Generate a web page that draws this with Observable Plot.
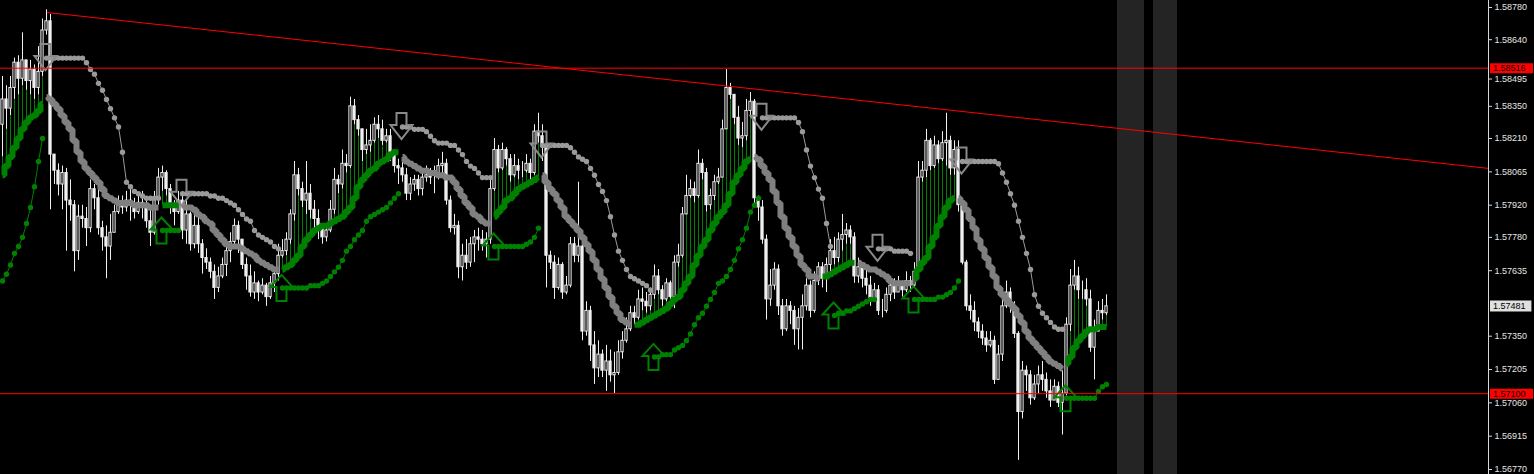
<!DOCTYPE html>
<html><head><meta charset="utf-8">
<script src="https://cdn.jsdelivr.net/npm/d3@7"></script>
<script src="https://cdn.jsdelivr.net/npm/@observablehq/plot@0.6"></script>
<style>html,body{margin:0;padding:0;background:#000;overflow:hidden}</style>
</head><body><div id="chart"></div>
<script>
// ---------- data (prices) ----------
const firstOpen = 1.5827;
const closes = [
1.5838,1.5834,1.5843,1.5854,1.5847,1.5855,1.5846,1.5851,1.5843,1.5850,
1.5868,1.5872,1.5814,1.5807,1.5801,1.5806,1.5794,1.5792,1.5772,1.5787,
1.5786,1.5782,1.5799,1.5795,1.5782,1.5778,1.5774,1.5780,1.5789,1.5792,
1.5791,1.5794,1.5792,1.5789,1.5793,1.5791,1.5785,1.5780,1.5795,1.5804,
1.5806,1.5799,1.5791,1.5789,1.5794,1.5781,1.5788,1.5775,1.5783,1.5775,
1.5769,1.5767,1.5763,1.5756,1.5761,1.5766,1.5772,1.5776,1.5783,1.5777,
1.5766,1.5761,1.5754,1.5758,1.5754,1.5757,1.5752,1.5758,1.5762,1.5770,
1.5772,1.5777,1.5788,1.5805,1.5799,1.5794,1.5797,1.5790,1.5786,1.5782,
1.5778,1.5781,1.5790,1.5803,1.5801,1.5810,1.5809,1.5835,1.5829,1.5825,
1.5816,1.5818,1.5820,1.5827,1.5825,1.5820,1.5822,1.5814,1.5809,1.5808,
1.5805,1.5797,1.5801,1.5803,1.5799,1.5804,1.5805,1.5804,1.5804,1.5809,
1.5810,1.5794,1.5782,1.5783,1.5765,1.5770,1.5767,1.5775,1.5778,1.5777,
1.5775,1.5777,1.5799,1.5816,1.5808,1.5816,1.5812,1.5805,1.5809,1.5807,
1.5807,1.5810,1.5806,1.5824,1.5822,1.5818,1.5770,1.5767,1.5756,1.5766,
1.5754,1.5757,1.5775,1.5770,1.5774,1.5737,1.5746,1.5731,1.5721,1.5727,
1.5720,1.5724,1.5718,1.5719,1.5728,1.5733,1.5738,1.5745,1.5743,1.5751,
1.5750,1.5748,1.5753,1.5761,1.5755,1.5751,1.5758,1.5752,1.5767,1.5770,
1.5788,1.5796,1.5799,1.5796,1.5810,1.5806,1.5792,1.5796,1.5802,1.5804,
1.5825,1.5843,1.5840,1.5830,1.5821,1.5822,1.5833,1.5837,1.5795,1.5791,
1.5777,1.5751,1.5757,1.5764,1.5748,1.5738,1.5748,1.5746,1.5738,1.5743,
1.5748,1.5757,1.5746,1.5759,1.5765,1.5760,1.5766,1.5772,1.5769,1.5777,
1.5779,1.5781,1.5778,1.5761,1.5765,1.5760,1.5757,1.5751,1.5755,1.5746,
1.5746,1.5753,1.5757,1.5754,1.5758,1.5755,1.5759,1.5757,1.5763,1.5804,
1.5807,1.5820,1.5809,1.5818,1.5812,1.5819,1.5820,1.5808,1.5816,1.5792,
1.5767,1.5748,1.5746,1.5741,1.5737,1.5734,1.5731,1.5733,1.5716,1.5727,
1.5748,1.5754,1.5748,1.5736,1.5702,1.5720,1.5718,1.5708,1.5714,1.5718,
1.5716,1.5711,1.5707,1.5713,1.5706,1.5710,1.5740,1.5757,1.5761,1.5755,
1.5755,1.5751,1.5730,1.5737,1.5746,1.5745,1.5748];
const highs = [
1.5848,1.5844,1.5848,1.5856,1.5857,1.5867,1.5855,1.5855,1.5853,1.5861,
1.5873,1.5877,1.5875,1.5811,1.5810,1.5809,1.5808,1.5803,1.5794,1.5792,
1.5792,1.5791,1.5803,1.5801,1.5803,1.5785,1.5783,1.5788,1.5792,1.5796,
1.5796,1.5798,1.5800,1.5795,1.5796,1.5798,1.5794,1.5792,1.5798,1.5808,
1.5809,1.5807,1.5801,1.5794,1.5798,1.5796,1.5794,1.5789,1.5791,1.5790,
1.5777,1.5773,1.5769,1.5766,1.5765,1.5769,1.5777,1.5780,1.5786,1.5785,
1.5775,1.5769,1.5766,1.5763,1.5759,1.5760,1.5758,1.5761,1.5765,1.5775,
1.5777,1.5780,1.5790,1.5811,1.5808,1.5802,1.5811,1.5801,1.5794,1.5790,
1.5784,1.5783,1.5794,1.5808,1.5805,1.5816,1.5814,1.5839,1.5838,1.5831,
1.5822,1.5825,1.5827,1.5830,1.5831,1.5829,1.5825,1.5825,1.5816,1.5812,
1.5811,1.5808,1.5804,1.5805,1.5805,1.5807,1.5809,1.5808,1.5809,1.5812,
1.5815,1.5812,1.5796,1.5788,1.5785,1.5775,1.5777,1.5778,1.5781,1.5782,
1.5781,1.5780,1.5803,1.5821,1.5818,1.5819,1.5817,1.5814,1.5814,1.5812,
1.5811,1.5814,1.5812,1.5827,1.5832,1.5827,1.5820,1.5772,1.5770,1.5769,
1.5767,1.5761,1.5778,1.5778,1.5802,1.5775,1.5750,1.5748,1.5737,1.5733,
1.5729,1.5731,1.5729,1.5728,1.5733,1.5737,1.5743,1.5748,1.5748,1.5755,
1.5756,1.5754,1.5756,1.5766,1.5764,1.5757,1.5760,1.5759,1.5770,1.5775,
1.5791,1.5805,1.5803,1.5802,1.5816,1.5812,1.5808,1.5799,1.5805,1.5808,
1.5829,1.5851,1.5845,1.5840,1.5835,1.5828,1.5838,1.5841,1.5838,1.5796,
1.5794,1.5779,1.5764,1.5767,1.5766,1.5751,1.5751,1.5750,1.5748,1.5747,
1.5753,1.5760,1.5759,1.5763,1.5767,1.5767,1.5769,1.5777,1.5778,1.5780,
1.5788,1.5784,1.5783,1.5780,1.5769,1.5767,1.5764,1.5761,1.5758,1.5757,
1.5751,1.5756,1.5760,1.5760,1.5761,1.5759,1.5763,1.5761,1.5767,1.5811,
1.5811,1.5825,1.5821,1.5822,1.5820,1.5824,1.5832,1.5822,1.5820,1.5820,
1.5792,1.5768,1.5753,1.5750,1.5743,1.5740,1.5737,1.5737,1.5735,1.5731,
1.5755,1.5759,1.5756,1.5750,1.5737,1.5724,1.5722,1.5720,1.5718,1.5722,
1.5724,1.5719,1.5716,1.5716,1.5715,1.5720,1.5743,1.5764,1.5768,1.5765,
1.5759,1.5760,1.5755,1.5742,1.5750,1.5751,1.5753];
const lows = [
1.5813,1.5825,1.5831,1.5838,1.5840,1.5844,1.5842,1.5840,1.5838,1.5840,
1.5848,1.5866,1.5790,1.5801,1.5796,1.5790,1.5772,1.5785,1.5763,1.5768,
1.5782,1.5774,1.5780,1.5790,1.5779,1.5772,1.5760,1.5768,1.5780,1.5788,
1.5788,1.5789,1.5785,1.5786,1.5788,1.5786,1.5782,1.5774,1.5779,1.5792,
1.5798,1.5796,1.5788,1.5783,1.5788,1.5777,1.5775,1.5772,1.5773,1.5771,
1.5762,1.5764,1.5760,1.5751,1.5754,1.5760,1.5761,1.5767,1.5773,1.5771,
1.5764,1.5755,1.5752,1.5751,1.5750,1.5753,1.5748,1.5751,1.5754,1.5759,
1.5769,1.5770,1.5775,1.5785,1.5796,1.5791,1.5788,1.5786,1.5782,1.5777,
1.5775,1.5776,1.5780,1.5788,1.5797,1.5799,1.5806,1.5808,1.5827,1.5822,
1.5811,1.5814,1.5815,1.5819,1.5821,1.5818,1.5819,1.5811,1.5806,1.5801,
1.5802,1.5794,1.5794,1.5798,1.5796,1.5796,1.5802,1.5801,1.5797,1.5803,
1.5805,1.5792,1.5780,1.5779,1.5760,1.5759,1.5764,1.5765,1.5767,1.5772,
1.5772,1.5769,1.5775,1.5798,1.5806,1.5807,1.5809,1.5802,1.5804,1.5803,
1.5804,1.5806,1.5803,1.5805,1.5819,1.5811,1.5756,1.5764,1.5751,1.5755,
1.5751,1.5753,1.5756,1.5767,1.5767,1.5733,1.5735,1.5724,1.5714,1.5717,
1.5717,1.5711,1.5715,1.5710,1.5718,1.5725,1.5732,1.5737,1.5740,1.5742,
1.5746,1.5745,1.5746,1.5751,1.5753,1.5748,1.5750,1.5750,1.5747,1.5765,
1.5769,1.5788,1.5795,1.5793,1.5795,1.5803,1.5789,1.5790,1.5794,1.5801,
1.5805,1.5825,1.5838,1.5827,1.5818,1.5817,1.5820,1.5830,1.5792,1.5785,
1.5775,1.5742,1.5748,1.5755,1.5744,1.5735,1.5737,1.5740,1.5731,1.5729,
1.5729,1.5746,1.5743,1.5745,1.5757,1.5756,1.5754,1.5761,1.5766,1.5767,
1.5772,1.5775,1.5775,1.5758,1.5758,1.5756,1.5753,1.5748,1.5750,1.5744,
1.5743,1.5745,1.5750,1.5751,1.5754,1.5752,1.5754,1.5754,1.5756,1.5761,
1.5802,1.5804,1.5807,1.5808,1.5810,1.5811,1.5809,1.5805,1.5805,1.5789,
1.5766,1.5746,1.5742,1.5737,1.5734,1.5731,1.5728,1.5730,1.5714,1.5719,
1.5724,1.5747,1.5745,1.5734,1.5681,1.5699,1.5711,1.5705,1.5707,1.5710,
1.5711,1.5708,1.5704,1.5707,1.5704,1.5692,1.5709,1.5737,1.5755,1.5751,
1.5751,1.5748,1.5728,1.5716,1.5737,1.5742,1.5744];
// thick trend average
const maValues = [
1.5805,1.5809,1.5813,1.5817,1.5821,1.5825,1.5828,1.5830,1.5831,1.5833,1.5836,
1.5839,1.5838,1.5836,1.5834,1.5831,1.5828,1.5825,1.5820,1.5815,1.5811,1.5808,1.5806,1.5804,1.5802,1.5799,1.5796,1.5795,1.5794,1.5793,1.5793,1.5793,1.5793,1.5792,1.5792,1.5792,1.5792,1.5791,1.5791,1.5791,
1.5792,1.5792,1.5792,1.5792,1.5792,
1.5792,1.5791,1.5791,1.5790,1.5788,1.5787,1.5785,1.5784,1.5781,1.5779,1.5777,1.5775,1.5774,1.5774,1.5774,1.5773,1.5772,1.5771,1.5770,1.5768,1.5767,1.5766,1.5765,1.5764,1.5764,
1.5764,1.5765,1.5766,1.5768,1.5770,1.5774,1.5777,1.5779,1.5781,1.5782,1.5783,1.5783,1.5784,1.5785,1.5786,1.5787,1.5789,1.5791,1.5795,1.5800,1.5803,1.5805,1.5807,1.5808,1.5810,1.5811,1.5812,1.5814,1.5815,1.5815,
1.5813,1.5811,1.5810,1.5809,1.5808,1.5807,1.5807,1.5806,1.5806,1.5805,1.5805,1.5804,1.5804,1.5802,1.5799,1.5796,1.5793,1.5791,1.5788,1.5787,1.5785,1.5784,1.5784,
1.5787,1.5789,1.5791,1.5794,1.5795,1.5797,1.5799,1.5800,1.5801,1.5802,1.5803,1.5804,
1.5805,1.5802,1.5799,1.5797,1.5794,1.5791,1.5787,1.5785,1.5783,1.5781,1.5778,1.5775,1.5772,1.5768,1.5764,1.5760,1.5756,1.5752,1.5748,1.5745,1.5742,1.5741,1.5740,
1.5740,1.5740,1.5741,1.5742,1.5743,1.5744,1.5745,1.5746,1.5747,1.5749,1.5751,1.5752,1.5755,1.5758,1.5761,1.5766,1.5770,1.5774,1.5777,1.5781,1.5784,1.5787,1.5789,1.5792,1.5797,1.5802,1.5805,1.5808,1.5811,1.5812,
1.5813,1.5812,1.5809,1.5806,1.5803,1.5798,1.5793,1.5787,1.5782,1.5778,1.5774,1.5770,1.5766,1.5764,1.5761,1.5761,1.5760,
1.5761,1.5761,1.5762,1.5763,1.5764,1.5765,1.5766,1.5767,1.5767,
1.5767,1.5766,1.5765,1.5764,1.5764,1.5763,1.5762,1.5761,1.5759,1.5758,1.5758,1.5758,1.5758,1.5758,
1.5760,1.5764,1.5767,1.5769,1.5774,1.5778,1.5783,1.5787,1.5791,1.5794,1.5795,
1.5795,1.5793,1.5790,1.5786,1.5782,1.5777,1.5773,1.5769,1.5765,1.5761,1.5756,1.5753,1.5751,1.5749,1.5747,1.5744,1.5741,1.5737,1.5734,1.5732,1.5730,1.5728,1.5726,1.5724,1.5723,1.5722,1.5721,
1.5723,1.5726,1.5730,1.5733,1.5735,1.5737,1.5738,1.5738,1.5739,1.5739,1.5739];
const maSegmentStarts = [0,11,40,45,70,100,123,135,158,188,205,214,228,239,266];
// trailing stop dots
const stopValues = [
1.5759,1.5762,1.5766,1.5771,1.5774,1.5778,1.5784,1.5791,1.5800,1.5811,1.5821,
1.5856,1.5856,1.5856,1.5856,1.5856,1.5856,1.5856,1.5856,1.5856,1.5856,1.5854,1.5851,1.5849,1.5845,1.5842,1.5838,1.5834,1.5830,1.5826,1.5815,1.5802,1.5800,1.5798,1.5797,1.5796,1.5795,1.5795,1.5795,1.5795,
1.5781,1.5781,1.5781,1.5781,1.5781,
1.5797,1.5797,1.5797,1.5797,1.5797,1.5797,1.5797,1.5796,1.5796,1.5795,1.5795,1.5794,1.5793,1.5792,1.5790,1.5788,1.5786,1.5785,1.5781,1.5779,1.5778,1.5777,1.5776,1.5774,1.5773,
1.5756,1.5756,1.5756,1.5756,1.5756,1.5756,1.5756,1.5757,1.5757,1.5757,1.5758,1.5759,1.5761,1.5763,1.5765,1.5768,1.5772,1.5774,1.5777,1.5779,1.5781,1.5785,1.5787,1.5788,1.5789,1.5790,1.5791,1.5793,1.5795,1.5797,
1.5826,1.5826,1.5826,1.5825,1.5825,1.5825,1.5824,1.5822,1.5820,1.5819,1.5819,1.5819,1.5818,1.5818,1.5816,1.5814,1.5811,1.5809,1.5808,1.5806,1.5804,1.5804,1.5804,
1.5774,1.5774,1.5774,1.5774,1.5774,1.5774,1.5774,1.5774,1.5775,1.5776,1.5778,1.5782,
1.5818,1.5818,1.5818,1.5818,1.5818,1.5818,1.5818,1.5817,1.5815,1.5813,1.5812,1.5811,1.5808,1.5805,1.5801,1.5798,1.5794,1.5787,1.5779,1.5772,1.5768,1.5764,1.5761,1.5760,1.5759,1.5758,1.5757,1.5755,
1.5726,1.5726,1.5727,1.5727,1.5727,1.5729,1.5730,1.5731,1.5733,1.5736,1.5740,1.5743,1.5745,1.5748,1.5751,1.5754,1.5758,1.5759,1.5761,1.5764,1.5768,1.5773,1.5777,1.5782,1.5789,1.5792,1.5795,
1.5830,1.5830,1.5830,1.5830,1.5830,1.5830,1.5830,1.5830,1.5830,1.5828,1.5824,1.5816,1.5809,1.5804,1.5799,1.5795,1.5784,1.5774,
1.5744,1.5745,1.5745,1.5746,1.5746,1.5747,1.5748,1.5749,1.5750,1.5751,1.5751,
1.5773,1.5773,1.5773,1.5773,1.5772,1.5772,1.5772,1.5772,1.5771,
1.5751,1.5751,1.5751,1.5751,1.5751,1.5751,1.5752,1.5752,1.5753,1.5754,1.5756,1.5759,
1.5811,1.5811,1.5811,1.5811,1.5811,1.5811,1.5811,1.5811,1.5811,1.5810,1.5806,1.5802,1.5797,1.5792,1.5785,1.5778,1.5771,1.5764,1.5753,1.5748,1.5745,1.5743,1.5741,1.5739,1.5738,1.5738,
1.5708,1.5708,1.5708,1.5708,1.5708,1.5708,1.5708,1.5708,1.5711,1.5713,1.5714];
const stopSegmentStarts = [0,11,40,45,70,100,123,135,163,190,208,219,228,240,266];

const yTicks = [1.58780,1.58640,1.58350,1.58210,1.58065,1.57920,1.57780,1.57635,1.57350,1.57205,1.57060,1.56915,1.56770];
const hiddenTick = [1.58495];
const levelLines = [1.58516, 1.57100];
const lastPrice = 1.57481;
const trendLine = [{bar: 11.25, price: 1.58758}, {bar: 371.5, price: 1.5808}];
const sessionBands = [{from: 278.75, to: 285.5}, {from: 287.75, to: 293.75}];
const priceDomain = [1.567483, 1.588105];
const barDomain = [-0.5, 371.5];

// ---------- styles ----------
const GREEN = "#008000", GRAY = "#808080", DOTGRAY = "#9a9a9a", CANDLE = "#f0f0f0";

function segOf(starts, i) { let k = 0; for (let j = 0; j < starts.length; j++) if (starts[j] <= i) k = j; return k; }

const bars = closes.map((c, i) => {
  const o = i === 0 ? firstOpen : closes[i - 1];
  return {i, o, c, h: Math.max(highs[i], o, c), l: Math.min(lows[i], o, c), bull: c > o};
});
const ma = maValues.map((v, i) => { const k = segOf(maSegmentStarts, i); return {i, v, seg: k, up: k % 2 === 0}; });
const stops = stopValues.map((v, i) => { const k = segOf(stopSegmentStarts, i); return {i, v, seg: k, up: k % 2 === 0}; });
const arrows = stopSegmentStarts.slice(1).map((s, j) => ({i: s - 0.25, v: stopValues[s], up: (j + 1) % 2 === 0}));
const thin = bars.filter(b => ma[b.i] && ma[b.i].up && b.l > ma[b.i].v).map(b => ({i: b.i, a: ma[b.i].v, b: b.l}));

const arrowUp = {draw(ctx) { ctx.moveTo(-5, 13); ctx.lineTo(-5, -1); ctx.lineTo(-11, -1); ctx.lineTo(0, -13); ctx.lineTo(11, -1); ctx.lineTo(5, -1); ctx.lineTo(5, 13); ctx.closePath(); }};
const arrowDown = {draw(ctx) { ctx.moveTo(-5, -14); ctx.lineTo(-5, -2); ctx.lineTo(-11, -2); ctx.lineTo(0, 12); ctx.lineTo(11, -2); ctx.lineTo(5, -2); ctx.lineTo(5, -14); ctx.closePath(); }};

const fmt = d => d.toFixed(5);
const LBX1 = 372, LBX2 = 382.75, LTX = 372.6;
const axisOpts = {anchor: "right", tickFormat: fmt, tickSize: 3, tickPadding: 3, label: null, stroke: "#d8d8d8", fill: "#e6e6e6", fontSize: 9};

const chart = Plot.plot({
  width: 1534, height: 474,
  marginTop: 0, marginBottom: 0, marginLeft: 0, marginRight: 46,
  x: {domain: barDomain, axis: null},
  y: {domain: priceDomain},
  color: {type: "identity"},
  style: {background: "#000", color: "#e6e6e6", fontFamily: "Liberation Sans, Arial, sans-serif", fontSize: "9px"},
  marks: [
    Plot.rect(sessionBands, {x1: "from", x2: "to", fill: "#242424"}),
    Plot.ruleX(thin, {x: "i", y1: "a", y2: "b", stroke: GREEN, strokeWidth: 1}),
    Plot.ruleX(bars, {x: "i", y1: "l", y2: "h", stroke: CANDLE, strokeWidth: 1}),
    Plot.rect(bars.filter(d => !d.bull), {x1: d => d.i - 0.28, x2: d => d.i + 0.28, y1: "o", y2: "c", fill: CANDLE, stroke: CANDLE, strokeWidth: 1}),
    Plot.rect(bars.filter(d => d.bull), {x1: d => d.i - 0.28, x2: d => d.i + 0.28, y1: "o", y2: "c", fill: "#000", stroke: CANDLE, strokeWidth: 1}),
    Plot.line(ma, {x: "i", y: "v", z: "seg", stroke: d => d.up ? GREEN : GRAY, curve: "step", strokeWidth: 6, strokeLinejoin: "miter", strokeLinecap: "butt"}),
    Plot.line(stops, {x: "i", y: "v", z: "seg", stroke: d => d.up ? GREEN : DOTGRAY, strokeWidth: 1}),
    Plot.dot(stops, {x: "i", y: "v", r: 2.7, fill: d => d.up ? GREEN : DOTGRAY, stroke: null}),
    Plot.dot(arrows.filter(d => d.up), {x: "i", y: "v", symbol: arrowUp, fill: "none", stroke: GREEN, strokeWidth: 2}),
    Plot.dot(arrows.filter(d => !d.up), {x: "i", y: "v", symbol: arrowDown, fill: "none", stroke: "#8a8a8a", strokeWidth: 2}),
    Plot.ruleY(levelLines, {stroke: "#ff0000", strokeWidth: 1}),
    Plot.line(trendLine, {x: "bar", y: "price", stroke: "#ff0000", strokeWidth: 1}),
    Plot.ruleX([barDomain[1]], {stroke: "#d8d8d8", strokeWidth: 1}),
    Plot.axisY({...axisOpts, ticks: yTicks}),
    Plot.axisY({...axisOpts, ticks: hiddenTick, dy: 6}),
    Plot.ruleY(levelLines, {x1: LBX1, x2: LBX2, stroke: "#ff0000", strokeWidth: 10}),
    Plot.text(levelLines, {x: LTX, y: d => d, text: fmt, textAnchor: "start", fill: "#000", fontSize: 9}),
    Plot.ruleY([lastPrice], {x1: LBX1, x2: LBX2 - 0.4, stroke: "#e0e0e0", strokeWidth: 11}),
    Plot.text([lastPrice], {x: LTX, y: d => d, text: fmt, textAnchor: "start", fill: "#000", fontSize: 9})
  ]
});
document.getElementById("chart").appendChild(chart);
</script>
</body></html>
